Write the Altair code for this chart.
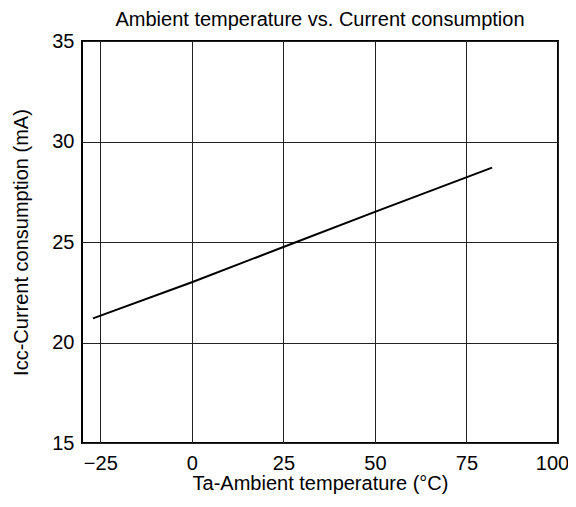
import altair as alt
import pandas as pd

temps = [-27, 0, 25, 50, 82]
icc = [21.2, 23.0, 24.75, 26.5, 28.7]
x_ticks = [-25, 0, 25, 50, 75, 100]
y_ticks = [15, 20, 25, 30, 35]

df = pd.DataFrame({"Ta": temps, "Icc": icc})

font = "Liberation Sans"

chart = alt.Chart(df).mark_line(color="black", strokeWidth=2).encode(
    x=alt.X("Ta:Q",
            scale=alt.Scale(domain=[-30, 100], nice=False, zero=False),
            axis=alt.Axis(values=x_ticks, title="Ta-Ambient temperature (°C)",
                          ticks=False, labelPadding=10, titlePadding=0,
                          labelOffset={"condition": {"test": "datum.value == 100", "value": -6}, "value": 0},
                          domain=False, grid=True, gridColor="#222", gridWidth=1,
                          labelFontSize=20, titleFontSize=20, titleFontWeight="normal",
                          labelFont=font, titleFont=font, labelColor="black",
                          titleColor="black", labelFlush=False)),
    y=alt.Y("Icc:Q",
            scale=alt.Scale(domain=[15, 35], nice=False, zero=False),
            axis=alt.Axis(values=y_ticks, title="Icc-Current consumption (mA)",
                          ticks=False, labelPadding=8, titlePadding=20,
                          domain=False, grid=True, gridColor="#222", gridWidth=1,
                          labelFontSize=20, titleFontSize=20, titleFontWeight="normal",
                          labelFont=font, titleFont=font, labelColor="black",
                          titleColor="black", labelFlush=False)),
).properties(
    width=476,
    height=402,
    title=alt.TitleParams("Ambient temperature vs. Current consumption",
                          fontSize=20, fontWeight="normal", font=font,
                          color="black", offset=1, anchor="middle"),
    autosize=alt.AutoSizeParams(type="none"),
    padding={"left": 74, "top": 33, "right": 10, "bottom": 52},
).configure_view(
    stroke="black", strokeWidth=2
)

chart.save("out.html", embed_options={"renderer": "svg", "actions": False})
